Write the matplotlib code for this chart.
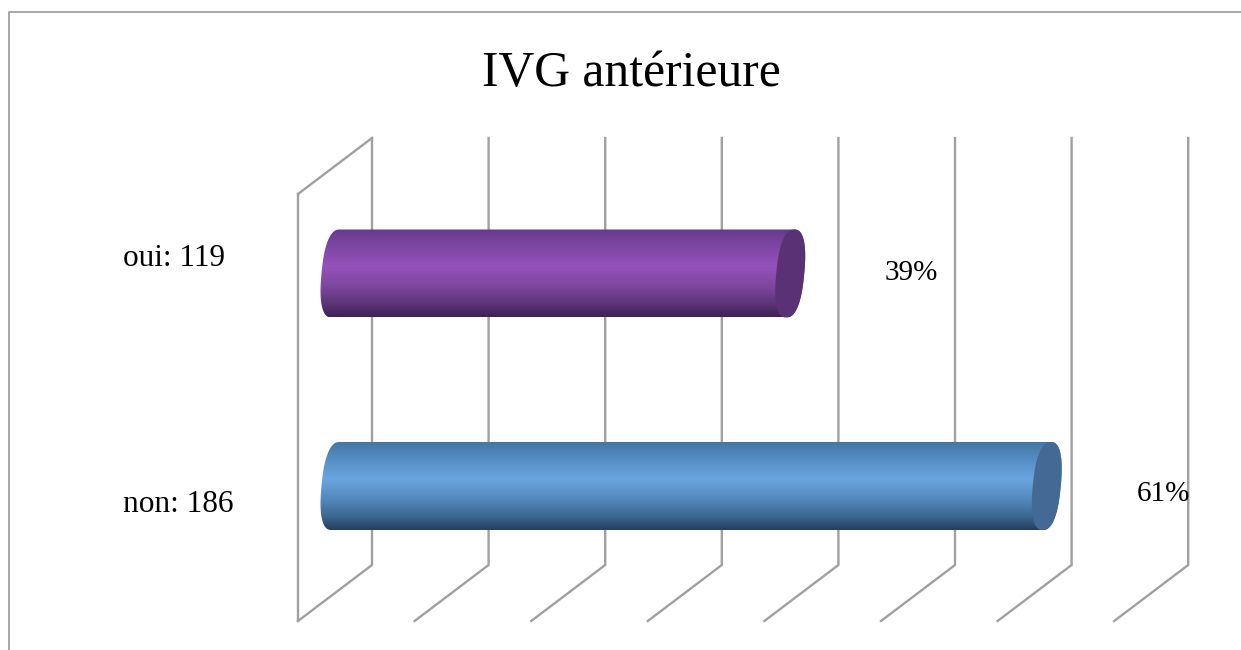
import numpy as np
import matplotlib
matplotlib.use('Agg')
from matplotlib import pyplot as plt
from matplotlib.colors import LinearSegmentedColormap
from matplotlib.patches import Polygon

# values
categories = ['non', 'oui']
counts = [186, 119]
percents = [61, 39]
title = 'IVG antérieure'
grid_values = [0, 10, 20, 30, 40, 50, 60, 70]

# bar colours, top to bottom of the cylinder
bar_stops = [
    ['#47759f', '#4f85ba', '#6aa5e0', '#5488bd', '#3a6690', '#23405c'],
    ['#66398a', '#75429a', '#9452bb', '#7e479f', '#5d3477', '#3d2254'],
]
cap_colors = ['#436a94', '#5b3176']
line_color = '#a0a0a0'

# pixel layout of the drawing
px_per_unit = 11.66
px_per_cat = 212.5
x_zero = 335.5
y_zero = 486

def to_x(px):
    return (px - x_zero) / px_per_unit

def to_y(px):
    return (y_zero - px) / px_per_cat

fig = plt.figure(figsize=(12.41, 6.5), dpi=100)
ax = fig.add_axes([0, 0, 1, 1])
ax.axis('off')
plt.rcParams['font.family'] = ['Liberation Serif', 'DejaVu Serif']

# outer frame, only top and left show
ax.plot([to_x(9), to_x(9), to_x(1241)], [to_y(650), to_y(11.5), to_y(11.5)],
        color=line_color, lw=1.3, zorder=1)

# grid of the 3D back wall
back_shift = 372 - x_zero
floor_shift = 298 - 372
for i, v in enumerate(grid_values):
    xb = v + back_shift / px_per_unit
    xf = xb + floor_shift / px_per_unit
    ax.plot([xb, xb, xf], [to_y(138), to_y(565), to_y(621)], color=line_color, lw=1.7,
            solid_joinstyle='miter', zorder=2)
    if i == 0:
        ax.plot([xf, xb], [to_y(194), to_y(138)], color=line_color, lw=1.7, zorder=2)
        ax.plot([xf, xf], [to_y(194), to_y(621)], color=line_color, lw=1.7, zorder=2)

# cylinder ends are skewed ellipses, a bit squarer than a true ellipse
half_h = 44 / px_per_cat
rad = 14 / px_per_unit
skew = 4 / px_per_unit

def ellipse(cx, cy, t):
    c = np.sign(np.cos(t)) * np.abs(np.cos(t)) ** 0.82
    s = np.sign(np.sin(t)) * np.abs(np.sin(t)) ** 0.82
    return cx + rad * c + skew * s, cy + half_h * s

for i, (val, stops) in enumerate(zip(percents, bar_stops)):
    t_right = np.linspace(np.pi / 2, -np.pi / 2, 90)
    t_left = np.linspace(-np.pi / 2, -3 * np.pi / 2, 90)
    rx, ry = ellipse(val, i, t_right)
    lx, ly = ellipse(0, i, t_left)
    body = Polygon(np.column_stack([np.r_[rx, lx], np.r_[ry, ly]]), closed=True,
                   transform=ax.transData, fc='none', ec='none')
    ax.add_patch(body)
    cmap = LinearSegmentedColormap.from_list('bar', list(zip([0, 0.12, 0.42, 0.65, 0.85, 1], stops)))
    img = ax.imshow(np.linspace(0, 1, 256).reshape(-1, 1), cmap=cmap, aspect='auto',
                    extent=(-3, val + 3, i - half_h, i + half_h), origin='upper',
                    interpolation='bilinear', zorder=3)
    img.set_clip_path(body)
    cx, cy = ellipse(val, i, np.linspace(0, 2 * np.pi, 180))
    ax.fill(cx, cy, color=cap_colors[i], lw=0, zorder=4)

# category labels
label_y = [505, 259]
for i, (cat, n) in enumerate(zip(categories, counts)):
    ax.text(to_x(123), to_y(label_y[i]), '{}: {}'.format(cat, n), fontsize=22.5,
            ha='left', va='center', color='black', zorder=5)

# percent labels
pct_x = [1163, 911]
pct_y = [494, 273]
for i, p in enumerate(percents):
    ax.text(to_x(pct_x[i]), to_y(pct_y[i]), '{}%'.format(p), fontsize=21,
            ha='center', va='center', color='black', zorder=5)

ax.text(to_x(631), to_y(74), title, fontsize=35.7, ha='center', va='center',
        color='black', zorder=5)

ax.set_xlim(to_x(0), to_x(1241))
ax.set_ylim(to_y(650), to_y(0))

fig.savefig('out.png', dpi=100)
